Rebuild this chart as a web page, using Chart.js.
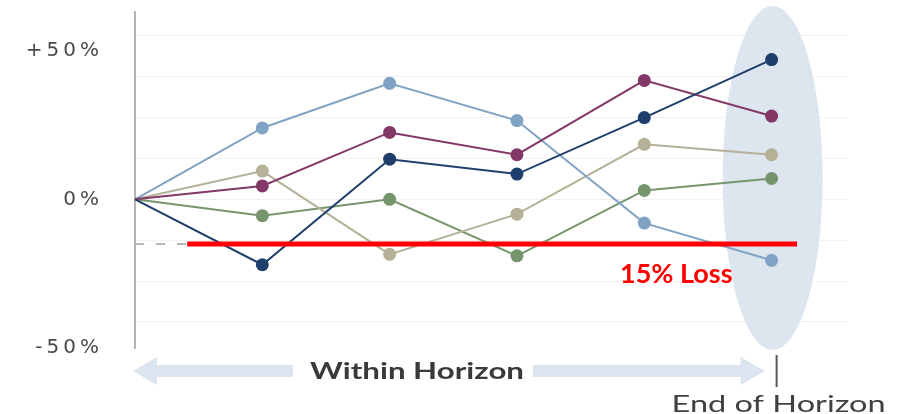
<!DOCTYPE html>
<html>
<head>
<meta charset="utf-8">
<script src="https://cdn.jsdelivr.net/npm/chart.js@4.4.1/dist/chart.umd.min.js"></script>
<style>
  html, body { margin: 0; padding: 0; background: #fff; }
  #wrap { width: 900px; height: 414px; }
</style>
</head>
<body>
<div id="wrap"><canvas id="horizonChart"></canvas></div>
<script>
// time steps along the horizon (0 = start, 5 = end of horizon)
const steps = [0, 1, 2, 3, 4, 5]

// cumulative return paths, in %
const pathLightBlue = [0, 24, 39, 26.5, -8, -20.5]
const pathTan = [0, 9.5, -18.5, -5, 18.5, 15]
const pathPurple = [0, 4.5, 22.5, 15, 40, 28]
const pathGreen = [0, -5.5, 0, -19, 3, 7]
const pathNavy = [0, -22, 13.5, 8.5, 27.5, 47]

// y axis labels and background grid
const yTicks = [-50, 0, 50]
const yTickText = ['-50%', '0%', '+50%']
const gridValues = [-41.25, -27.5, -13.75, 0, 13.75, 27.5, 41.25, 55]

// loss threshold
const lossLevel = -15
const lossStart = 0.41
const lossEnd = 5.2
const lossLabel = '15% Loss'

const toPoints = vals => vals.map((v, i) => ({ x: steps[i], y: v }))

function pathDataset(vals, color, order) {
  return {
    data: toPoints(vals),
    order: order,
    borderColor: color,
    backgroundColor: color,
    pointBackgroundColor: color,
    borderWidth: 2,
    pointRadius: ctx => ctx.dataIndex === 0 ? 0 : 6.5,
    pointBorderWidth: 0,
    tension: 0,
    clip: false
  }
}

// text squeezed/stretched horizontally to a given width
function fitText(ctx, text, cx, cy, width) {
  const w = ctx.measureText(text).width
  ctx.save()
  ctx.translate(cx, cy)
  ctx.scale(width / w, 1)
  ctx.fillText(text, 0, 0)
  ctx.restore()
}

// shaded "end of horizon" ellipse behind the last points
const horizonEllipse = {
  id: 'horizonEllipse',
  beforeDraw(chart) {
    chart.ctx.letterSpacing = '4px'
  },
  beforeDatasetsDraw(chart) {
    const { ctx, scales } = chart
    ctx.letterSpacing = '0px'
    const cx = scales.x.getPixelForValue(steps[5]) + 1
    ctx.save()
    ctx.fillStyle = '#dde5ef'
    ctx.beginPath()
    ctx.ellipse(cx, 178, 50, 172, 0, 0, Math.PI * 2)
    ctx.fill()
    ctx.restore()
  }
}

// arrow, end tick and captions under the plot
const horizonCaptions = {
  id: 'horizonCaptions',
  afterDraw(chart) {
    const { ctx, scales } = chart
    const x0 = scales.x.getPixelForValue(steps[0]) - 2
    const x5 = scales.x.getPixelForValue(steps[5])
    const y = 371
    ctx.save()
    ctx.letterSpacing = '0px'
    ctx.fillStyle = '#dce4ef'
    // left half
    ctx.beginPath()
    ctx.moveTo(x0, y)
    ctx.lineTo(x0 + 24, y - 14)
    ctx.lineTo(x0 + 24, y - 6)
    ctx.lineTo(293, y - 6)
    ctx.lineTo(293, y + 6)
    ctx.lineTo(x0 + 24, y + 6)
    ctx.lineTo(x0 + 24, y + 14)
    ctx.closePath()
    ctx.fill()
    // right half
    const xt = x5 - 7
    ctx.beginPath()
    ctx.moveTo(xt, y)
    ctx.lineTo(xt - 24, y - 14)
    ctx.lineTo(xt - 24, y - 6)
    ctx.lineTo(533, y - 6)
    ctx.lineTo(533, y + 6)
    ctx.lineTo(xt - 24, y + 6)
    ctx.lineTo(xt - 24, y + 14)
    ctx.closePath()
    ctx.fill()

    ctx.strokeStyle = '#555'
    ctx.lineWidth = 2
    ctx.beginPath()
    ctx.moveTo(x5 + 5, 355)
    ctx.lineTo(x5 + 5, 387)
    ctx.stroke()

    ctx.fillStyle = '#3a3a3a'
    ctx.textBaseline = 'middle'
    ctx.textAlign = 'center'
    ctx.font = 'bold 23px Lato'
    fitText(ctx, 'Within Horizon', 417, y + 1, 214)
    ctx.fillStyle = '#404040'
    ctx.font = '23px Lato'
    fitText(ctx, 'End of Horizon', x5 + 7, 405, 214)

    ctx.fillStyle = '#ff0000'
    ctx.textAlign = 'left'
    ctx.font = 'bold 27px Lato'
    ctx.fillText(lossLabel, 620, 274)
    ctx.restore()
  }
}

const ctx = document.getElementById('horizonChart').getContext('2d')
new Chart(ctx, {
  type: 'line',
  data: {
    datasets: [
      {
        data: [{ x: steps[0], y: lossLevel }, { x: lossEnd, y: lossLevel }],
        order: 7,
        borderColor: '#b8b8b8',
        borderWidth: 2,
        borderDash: [9, 12],
        pointRadius: 0
      },
      pathDataset(pathGreen, '#76956d', 5),
      pathDataset(pathTan, '#b5b197', 4),
      pathDataset(pathLightBlue, '#80a3c3', 3),
      pathDataset(pathPurple, '#843867', 2),
      pathDataset(pathNavy, '#1e3e6b', 1),
      {
        data: [{ x: lossStart, y: lossLevel }, { x: lossEnd, y: lossLevel }],
        order: 0,
        borderColor: '#ff0000',
        borderWidth: 5,
        pointRadius: 0,
        clip: false
      }
    ]
  },
  options: {
    responsive: true,
    maintainAspectRatio: false,
    animation: false,
    layout: { padding: { top: 12, bottom: 66, right: 52, left: 0 } },
    plugins: {
      legend: { display: false },
      tooltip: { enabled: false }
    },
    scales: {
      x: { type: 'linear', min: 0, max: 5.6, display: false },
      y: {
        position: 'left',
        min: -50,
        max: 63,
        afterFit: s => {
          s.width = 135
          s.paddingTop = 0
          s.paddingBottom = 0
        },
        afterBuildTicks: s => { s.ticks = yTicks.map(v => ({ value: v })) },
        grid: { display: false, drawTicks: false },
        border: { color: '#b3b3b3', width: 2 },
        ticks: {
          padding: 32,
          color: '#4a4a4a',
          font: { family: 'DejaVu Sans', size: 20 },
          callback: v => yTickText[yTicks.indexOf(v)]
        }
      },
      yg: {
        position: 'right',
        min: -50,
        max: 63,
        afterFit: s => { s.width = 0 },
        afterBuildTicks: s => { s.ticks = gridValues.map(v => ({ value: v })) },
        grid: { color: '#f1f1f1', drawTicks: false },
        border: { display: false },
        ticks: { display: false }
      }
    }
  },
  plugins: [horizonEllipse, horizonCaptions]
})
</script>
</body>
</html>
